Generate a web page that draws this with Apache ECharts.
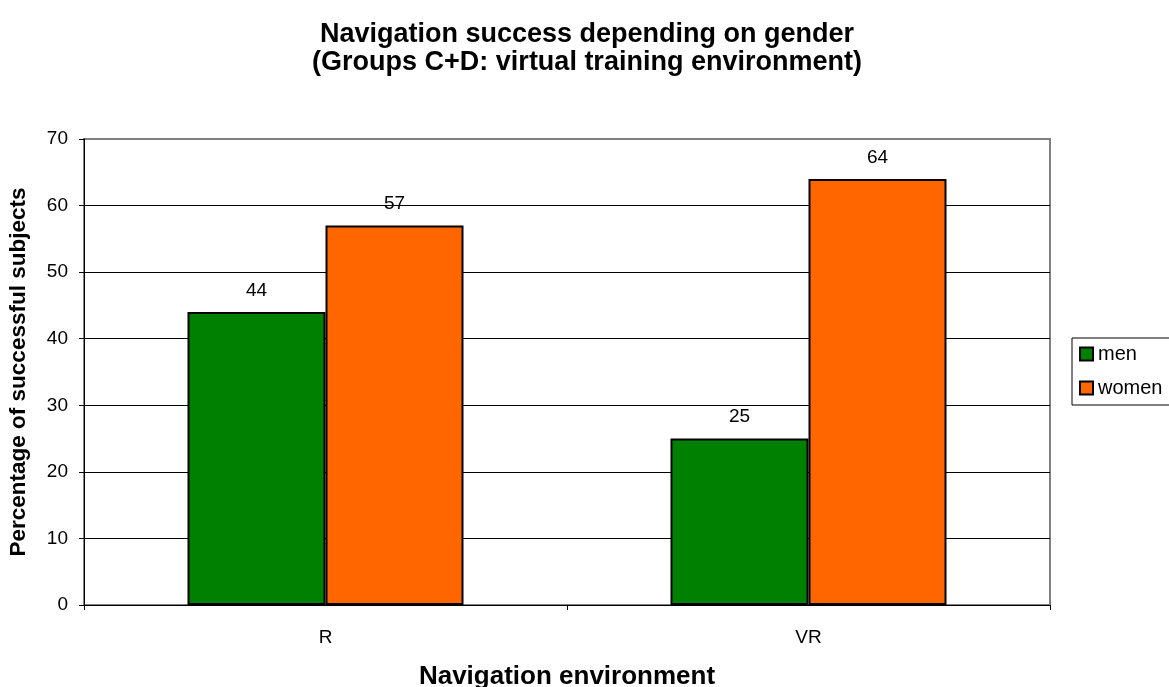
<!DOCTYPE html>
<html>
<head>
<meta charset="utf-8">
<script src="https://cdn.jsdelivr.net/npm/echarts@6/dist/echarts.min.js"></script>
<style>
  html, body { margin: 0; padding: 0; background: #fff; }
  #chart { width: 1169px; height: 687px; }
</style>
</head>
<body>
<div id="chart"></div>
<script>
// Navigation success by gender, groups C+D
const categories = ['R', 'VR'];
const menValues = [44, 25];
const womenValues = [57, 64];
const yTicks = [0, 10, 20, 30, 40, 50, 60, 70];

const FONT = '"Liberation Sans", Arial, Helvetica, sans-serif';

const chart = echarts.init(document.getElementById('chart'), null, { renderer: 'canvas' });

// top gridline doubles as the grey plot-area frame
const splitColors = yTicks.map((v, i) => (i === yTicks.length - 1 ? '#808080' : '#000000'));

chart.setOption({
  backgroundColor: '#ffffff',
  animation: false,
  textStyle: { fontFamily: FONT },
  title: {
    text: 'Navigation success depending on gender\n(Groups C+D: virtual training environment)',
    left: 582,
    textAlign: 'center',
    top: 16,
    textStyle: {
      fontFamily: FONT,
      fontWeight: 'bold',
      fontSize: 27,
      lineHeight: 28,
      color: '#000'
    }
  },
  legend: {
    orient: 'vertical',
    left: 1072,
    top: 338,
    padding: [6, 20, 7, 7],
    itemGap: 14,
    itemWidth: 13,
    itemHeight: 13,
    borderColor: '#000',
    borderWidth: 1,
    icon: 'rect',
    textStyle: { fontFamily: FONT, fontSize: 20, color: '#000' },
    data: ['men', 'women']
  },
  grid: {
    left: 84,
    right: 119,
    top: 139,
    bottom: 82,
    outerBoundsMode: 'none',
    containLabel: false,
    show: true,
    borderColor: '#808080',
    borderWidth: 2,
    backgroundColor: '#ffffff'
  },
  xAxis: {
    type: 'category',
    data: categories,
    name: 'Navigation environment',
    nameLocation: 'middle',
    nameGap: 59,
    nameTextStyle: { fontFamily: FONT, fontWeight: 'bold', fontSize: 26, color: '#000' },
    axisLine: { lineStyle: { color: '#000', width: 1 } },
    axisTick: { show: true, length: 5, lineStyle: { color: '#000' } },
    axisLabel: { fontFamily: FONT, fontSize: 19, color: '#000', margin: 23 },
    splitLine: { show: false }
  },
  yAxis: {
    type: 'value',
    min: 0,
    max: 70,
    interval: 10,
    name: 'Percentage of successful subjects',
    nameLocation: 'middle',
    nameGap: 54,
    nameTextStyle: { fontFamily: FONT, fontWeight: 'bold', fontSize: 22.5, color: '#000' },
    axisLine: { show: true, lineStyle: { color: '#000', width: 1 } },
    axisTick: { show: true, length: 5, lineStyle: { color: '#000' } },
    axisLabel: { fontFamily: FONT, fontSize: 19, color: '#000', margin: 16 },
    splitLine: { show: true, lineStyle: { color: splitColors, width: 1 } }
  },
  series: [
    {
      name: 'men',
      type: 'bar',
      data: menValues,
      barWidth: 138,
      barGap: '0%',
      itemStyle: { color: '#008000', borderColor: '#000', borderWidth: 2 },
      label: { show: true, position: 'top', distance: 12, fontFamily: FONT, fontSize: 19, color: '#000' }
    },
    {
      name: 'women',
      type: 'bar',
      data: womenValues,
      barWidth: 138,
      barGap: '0%',
      itemStyle: { color: '#ff6600', borderColor: '#000', borderWidth: 2 },
      label: { show: true, position: 'top', distance: 12, fontFamily: FONT, fontSize: 19, color: '#000' }
    }
  ]
});
</script>
</body>
</html>
